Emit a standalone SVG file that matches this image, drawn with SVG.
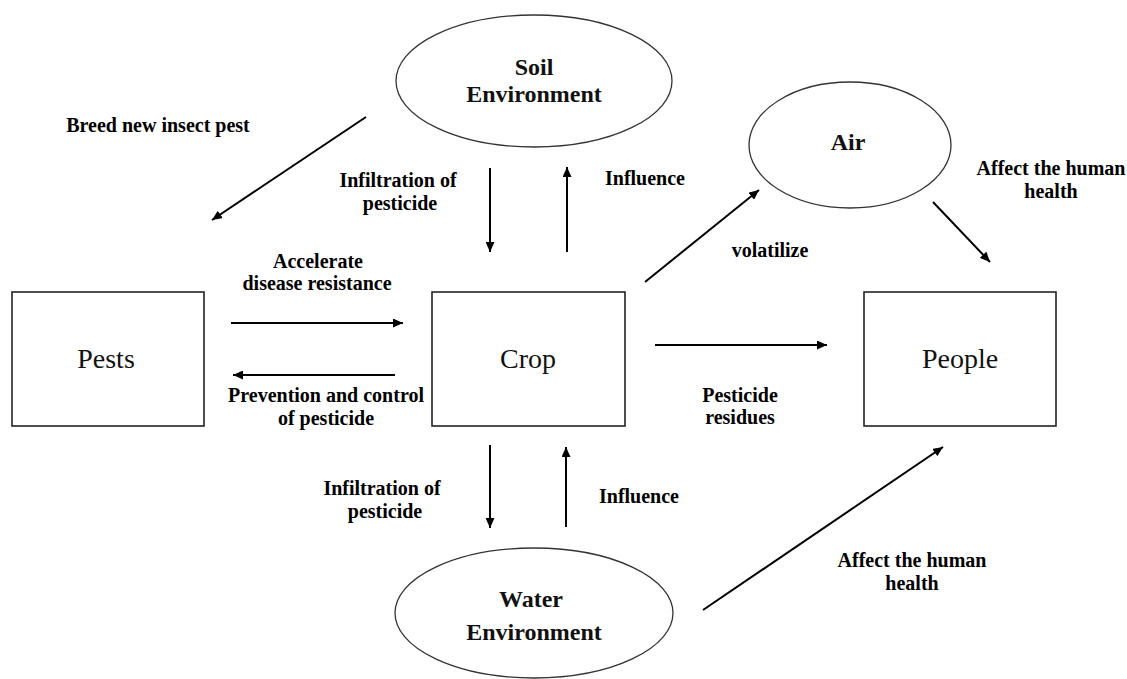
<svg xmlns="http://www.w3.org/2000/svg" width="1127" height="679" viewBox="0 0 1127 679">
<style>
.bg{fill:#ffffff}
.ell{fill:#ffffff;stroke:#333333;stroke-width:1.3}
.box{fill:#ffffff;stroke:#222222;stroke-width:1.6}
.con{stroke:#000000;stroke-width:2;fill:none;marker-end:url(#ah)}
text{font-family:'Liberation Serif','Times New Roman',Times,'DejaVu Serif',serif}
.lbl{font-weight:bold;font-size:20px;fill:#000;text-anchor:middle}
.nl{font-weight:bold;font-size:24px;fill:#111;text-anchor:middle}
.bl{font-size:28px;fill:#111;text-anchor:middle}
</style>
<defs>
<marker id="ah" markerUnits="userSpaceOnUse" markerWidth="10" markerHeight="9" refX="10" refY="4.5" orient="auto">
<path d="M0,0 L10,4.5 L0,9 z" fill="#000"/>
</marker>
</defs>
<rect class="bg" x="0" y="0" width="1127" height="679"/>
<g id="soil">
<ellipse class="ell" cx="534" cy="81" rx="138" ry="66"/>
<text class="nl" x="534" y="75">Soil</text>
<text class="nl" x="534" y="102">Environment</text>
</g>
<g id="air">
<ellipse class="ell" cx="850" cy="145" rx="101" ry="63"/>
<text class="nl" x="848" y="150">Air</text>
</g>
<g id="water">
<ellipse class="ell" cx="534" cy="613" rx="139" ry="65"/>
<text class="nl" x="531" y="607">Water</text>
<text class="nl" x="534" y="640">Environment</text>
</g>
<g id="pests">
<rect class="box" x="12" y="292" width="192" height="134"/>
<text class="bl" x="106" y="368">Pests</text>
</g>
<g id="crop">
<rect class="box" x="432" y="292" width="193" height="134"/>
<text class="bl" x="528" y="368">Crop</text>
</g>
<g id="people">
<rect class="box" x="864" y="292" width="192" height="134"/>
<text class="bl" x="960" y="368">People</text>
</g>
<g id="connectors">
<path class="con" d="M366,117 L212,220"/>
<path class="con" d="M490,168 L490,252"/>
<path class="con" d="M567,252 L567,167"/>
<path class="con" d="M231,323 L403,323"/>
<path class="con" d="M395,375 L233,375"/>
<path class="con" d="M655,345 L827,345"/>
<path class="con" d="M645,282 L759,190"/>
<path class="con" d="M933,202 L990,262"/>
<path class="con" d="M490,445 L490,528"/>
<path class="con" d="M566,527 L566,447"/>
<path class="con" d="M703,610 L943,447"/>
</g>
<g id="labels">
<text class="lbl" x="158" y="132">Breed new insect pest</text>
<text class="lbl" x="398" y="187">Infiltration of</text>
<text class="lbl" x="400" y="210">pesticide</text>
<text class="lbl" x="645" y="185">Influence</text>
<text class="lbl" x="318" y="268">Accelerate</text>
<text class="lbl" x="317" y="290">disease resistance</text>
<text class="lbl" x="326" y="402">Prevention and control</text>
<text class="lbl" x="326" y="425">of pesticide</text>
<text class="lbl" x="770" y="257">volatilize</text>
<text class="lbl" x="1051" y="175">Affect the human</text>
<text class="lbl" x="1051" y="198">health</text>
<text class="lbl" x="740" y="402">Pesticide</text>
<text class="lbl" x="740" y="424">residues</text>
<text class="lbl" x="382" y="495">Infiltration of</text>
<text class="lbl" x="385" y="518">pesticide</text>
<text class="lbl" x="639" y="503">Influence</text>
<text class="lbl" x="912" y="567">Affect the human</text>
<text class="lbl" x="912" y="590">health</text>
</g>
</svg>
